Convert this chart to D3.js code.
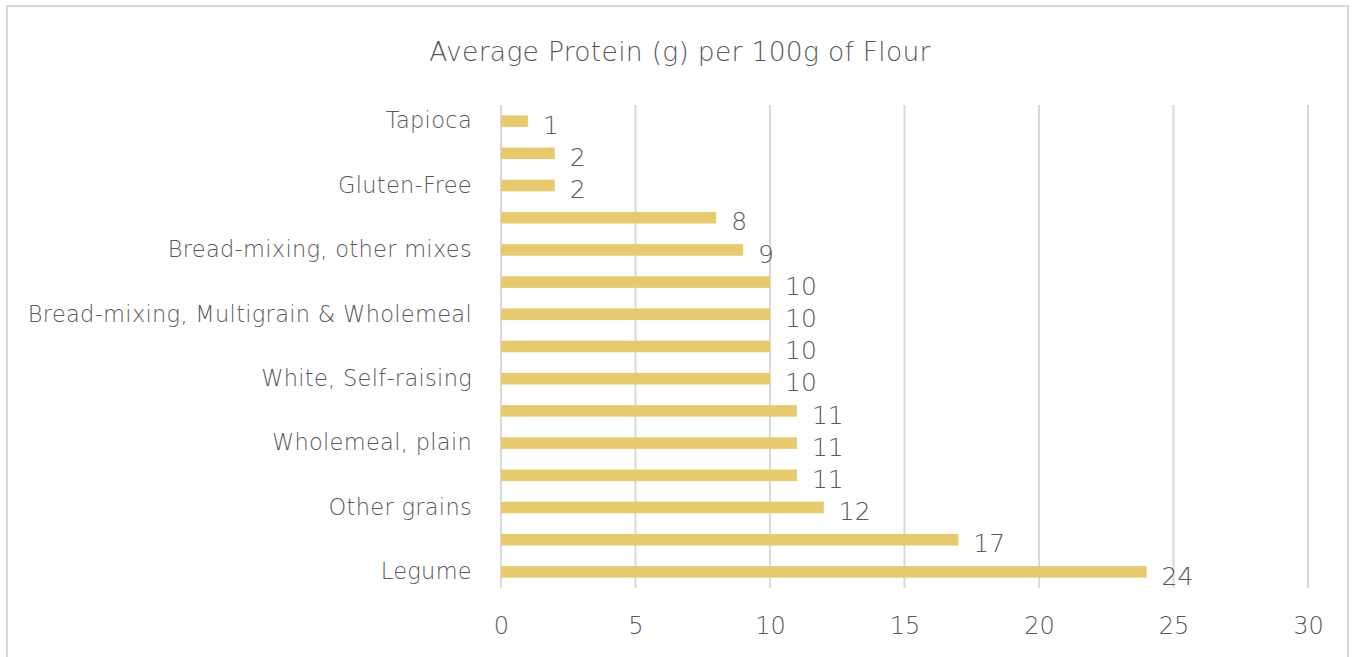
<!DOCTYPE html>
<html><head><meta charset="utf-8">
<script src="https://cdn.jsdelivr.net/npm/d3@7"></script>
<style>
html,body{margin:0;padding:0;background:#fff;}
svg{display:block;}
text{font-family:"DejaVu Sans",sans-serif;font-weight:200;fill:#595959;}
</style></head><body>
<svg id="chart" width="1354" height="657"></svg>
<script>
const title = "Average Protein (g) per 100g of Flour";
// categories top to bottom; Excel only shows every other label
const categories = ["Tapioca","","Gluten-Free","","Bread-mixing, other mixes","","Bread-mixing, Multigrain & Wholemeal","","White, Self-raising","","Wholemeal, plain","","Other grains","","Legume"];
const values = [1,2,2,8,9,10,10,10,10,11,11,11,12,17,24];
const xTicks = [0,5,10,15,20,25,30];

const svg = d3.select("#chart");
const W = 1354, H = 657;
const margin = {left:501, right:46, top:105, bottom:69};
const FONT = "'DejaVu Sans',sans-serif";

svg.append("rect").attr("x",7).attr("y",6).attr("width",1341).attr("height",660)
  .attr("fill","#fff").attr("stroke","#d9d9d9").attr("stroke-width",2);

const x = d3.scaleLinear().domain([0,30]).range([margin.left, W-margin.right]);
const y = d3.scaleBand().domain(d3.range(categories.length)).range([margin.top, H-margin.bottom]).paddingInner(0.64).paddingOuter(0.32);

svg.append("g").selectAll("line").data(xTicks).join("line")
  .attr("x1",d=>x(d)).attr("x2",d=>x(d))
  .attr("y1",margin.top).attr("y2",H-margin.bottom)
  .attr("stroke","#d9d9d9").attr("stroke-width",2);

const xAxis = d3.axisBottom(x).tickValues(xTicks).tickSize(0).tickPadding(0);
const gx = svg.append("g").attr("transform",`translate(0,${H-margin.bottom+29})`).call(xAxis);
gx.select(".domain").remove();
gx.selectAll("text").attr("font-size",24).attr("fill","#595959").attr("dy","0.7em")
  .style("font-family",FONT).style("font-weight",200);

const yAxis = d3.axisLeft(y).tickSize(0).tickPadding(29).tickFormat(i=>categories[i]);
const gy = svg.append("g").attr("transform",`translate(${margin.left},0)`).call(yAxis);
gy.select(".domain").remove();
gy.selectAll("text").attr("font-size",22.5).attr("fill","#595959")
  .style("font-family",FONT).style("font-weight",200).style("letter-spacing","0.3px");

svg.append("g").selectAll("rect").data(values).join("rect")
  .attr("x",x(0)).attr("y",(d,i)=>y(i))
  .attr("width",d=>x(d)-x(0)).attr("height",y.bandwidth())
  .attr("fill","#e8ca6e");

svg.append("g").selectAll("text").data(values).join("text")
  .attr("x",d=>x(d)+15).attr("y",(d,i)=>y(i)+y.bandwidth()/2+4)
  .attr("dy","0.35em").attr("font-size",25).text(d=>d);

svg.append("text").attr("x",680).attr("y",52).attr("dy","0.35em").attr("text-anchor","middle")
  .attr("font-size",26.5).style("letter-spacing","0.3px").text(title);
</script>
</body></html>
